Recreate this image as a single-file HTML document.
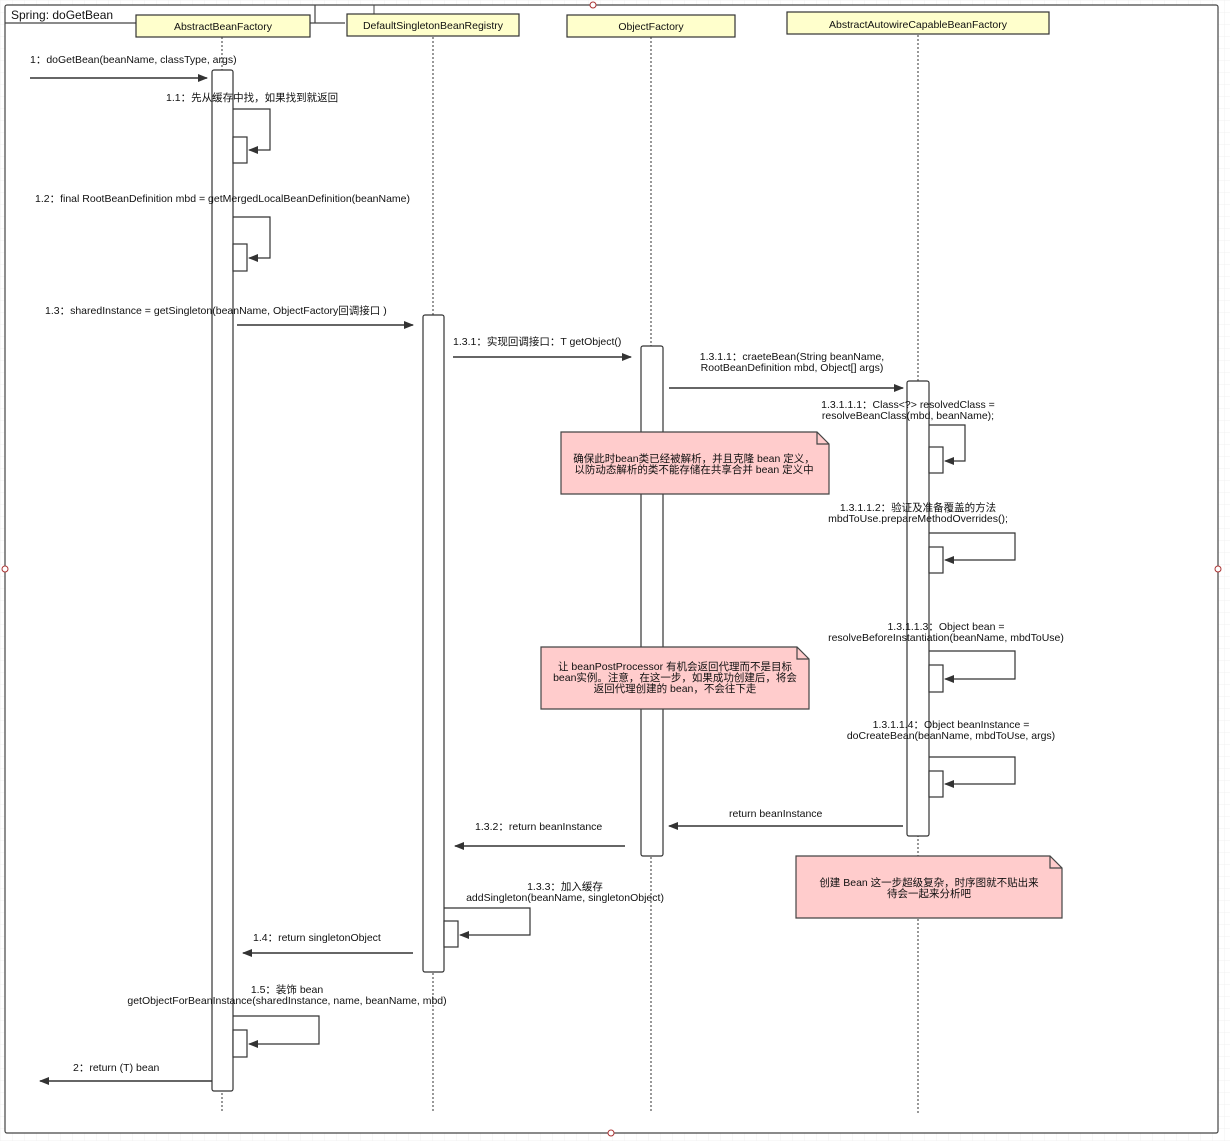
<!DOCTYPE html>
<html><head><meta charset="utf-8"><style>
html,body{margin:0;padding:0;background:#fff}
svg{display:block}
text{font-family:"Liberation Sans","Noto Sans CJK SC",sans-serif;font-size:10.5px;fill:#111}
</style></head><body>
<svg width="1230" height="1141" viewBox="0 0 1230 1141" xmlns="http://www.w3.org/2000/svg">
<defs>
<pattern id="g" width="12" height="12" patternUnits="userSpaceOnUse"><path d="M12 0H0V12" fill="none" stroke="#f0f0f0" stroke-width="1"/></pattern>
<marker id="a" markerWidth="10" markerHeight="8" refX="9" refY="4" orient="auto" markerUnits="userSpaceOnUse"><path d="M0,0 L10,4 L0,8 z" fill="#333"/></marker>
</defs>
<rect width="1230" height="1141" fill="url(#g)"/>
<rect x="5" y="5" width="1213" height="1128" fill="#fff" stroke="#444" stroke-width="1.2" rx="2"/>
<path d="M5 23 H345 M315 5 V23 M310 23 H345" stroke="#444" stroke-width="1.2" fill="none"/>
<path d="M374 5 V14" stroke="#444"/>
<text x="11" y="19" style="font-size:12px">Spring: doGetBean</text>
<g fill="#fff" stroke="#a33"><circle cx="5" cy="569" r="3"/><circle cx="1218" cy="569" r="3"/><circle cx="611" cy="1133" r="3"/><circle cx="593" cy="5" r="3"/></g>
<!-- lifelines -->
<g stroke="#555" stroke-dasharray="2,2" stroke-width="1.2">
<line x1="222" y1="37" x2="222" y2="1112"/><line x1="433" y1="37" x2="433" y2="1112"/>
<line x1="651" y1="37" x2="651" y2="1112"/><line x1="918" y1="35" x2="918" y2="1115"/>
</g>
<!-- headers -->
<g fill="#ffffcc" stroke="#333" stroke-width="1.2">
<rect x="136" y="15" width="174" height="22"/><rect x="347" y="14" width="172" height="22"/>
<rect x="567" y="15" width="168" height="22"/><rect x="787" y="12" width="262" height="22"/>
</g>
<g text-anchor="middle"><text x="223" y="30">AbstractBeanFactory</text><text x="433" y="29">DefaultSingletonBeanRegistry</text><text x="651" y="30">ObjectFactory</text><text x="918" y="28">AbstractAutowireCapableBeanFactory</text></g>
<!-- activations -->
<g fill="#fff" stroke="#333" stroke-width="1.2">
<rect x="212" y="70" width="21" height="1021" rx="2"/>
<rect x="423" y="315" width="21" height="657" rx="2"/>
<rect x="641" y="346" width="22" height="510" rx="2"/>
<rect x="907" y="381" width="22" height="455" rx="2"/>
</g>
<!-- self calls -->
<g stroke="#333" stroke-width="1.2" fill="none">
<path d="M233 109 H270 V150 H249" marker-end="url(#a)"/>
<path d="M233 217 H270 V258 H249" marker-end="url(#a)"/>
<path d="M929 425 H965 V461 H945" marker-end="url(#a)"/>
<path d="M929 533 H1015 V560 H945" marker-end="url(#a)"/>
<path d="M929 651 H1015 V679 H945" marker-end="url(#a)"/>
<path d="M929 757 H1015 V784 H945" marker-end="url(#a)"/>
<path d="M444 908 H530 V935 H460" marker-end="url(#a)"/>
<path d="M233 1016 H319 V1044 H249" marker-end="url(#a)"/>
</g>
<g fill="#fff" stroke="#333" stroke-width="1.2">
<rect x="233" y="137" width="14" height="26"/><rect x="233" y="244" width="14" height="27"/>
<rect x="929" y="447" width="14" height="26"/><rect x="929" y="547" width="14" height="26"/>
<rect x="929" y="665" width="14" height="27"/><rect x="929" y="771" width="14" height="26"/>
<rect x="444" y="921" width="14" height="26"/><rect x="233" y="1030" width="14" height="27"/>
</g>
<!-- messages -->
<g stroke="#333" stroke-width="1.4" fill="none" marker-end="url(#a)">
<line x1="30" y1="78" x2="207" y2="78"/><line x1="237" y1="325" x2="413" y2="325"/>
<line x1="453" y1="357" x2="631" y2="357"/><line x1="669" y1="388" x2="903" y2="388"/>
<line x1="903" y1="826" x2="669" y2="826"/><line x1="625" y1="846" x2="455" y2="846"/>
<line x1="413" y1="953" x2="243" y2="953"/><line x1="212" y1="1081" x2="40" y2="1081"/>
</g>
<!-- labels -->
<text x="30" y="63">1：doGetBean(beanName, classType, args)</text>
<text x="166" y="101">1.1：先从缓存中找，如果找到就返回</text>
<text x="35" y="202">1.2：final RootBeanDefinition mbd = getMergedLocalBeanDefinition(beanName)</text>
<text x="45" y="314">1.3：sharedInstance = getSingleton(beanName, ObjectFactory回调接口 )</text>
<text x="453" y="345">1.3.1：实现回调接口：T getObject()</text>
<g text-anchor="middle">
<text x="792" y="360">1.3.1.1：craeteBean(String beanName,</text><text x="792" y="371">RootBeanDefinition mbd, Object[] args)</text>
<text x="908" y="408">1.3.1.1.1：Class&lt;?&gt; resolvedClass =</text><text x="908" y="419">resolveBeanClass(mbd, beanName);</text>
<text x="918" y="511">1.3.1.1.2：验证及准备覆盖的方法</text><text x="918" y="522">mbdToUse.prepareMethodOverrides();</text>
<text x="946" y="630">1.3.1.1.3：Object bean =</text><text x="946" y="641">resolveBeforeInstantiation(beanName, mbdToUse)</text>
<text x="951" y="728">1.3.1.1.4：Object beanInstance =</text><text x="951" y="739">doCreateBean(beanName, mbdToUse, args)</text>
<text x="565" y="890">1.3.3：加入缓存</text><text x="565" y="901">addSingleton(beanName, singletonObject)</text>
<text x="287" y="993">1.5：装饰 bean</text><text x="287" y="1004">getObjectForBeanInstance(sharedInstance, name, beanName, mbd)</text>
</g>
<text x="729" y="817">return beanInstance</text>
<text x="475" y="830">1.3.2：return beanInstance</text>
<text x="253" y="941">1.4：return singletonObject</text>
<text x="73" y="1071">2：return (T) bean</text>
<!-- notes -->
<g fill="#ffcccc" stroke="#444" stroke-width="1.2">
<path d="M561 432 H817 L829 444 V494 H561 Z"/><path d="M817 432 V444 H829" fill="none"/>
<path d="M541 647 H797 L809 659 V709 H541 Z"/><path d="M797 647 V659 H809" fill="none"/>
<path d="M796 856 H1050 L1062 868 V918 H796 Z"/><path d="M1050 856 V868 H1062" fill="none"/>
</g>
<g text-anchor="middle">
<text x="694" y="462">确保此时bean类已经被解析，并且克隆 bean 定义，</text><text x="694" y="473">以防动态解析的类不能存储在共享合并 bean 定义中</text>
<text x="675" y="670">让 beanPostProcessor 有机会返回代理而不是目标</text><text x="675" y="681">bean实例。注意，在这一步，如果成功创建后，将会</text><text x="675" y="692">返回代理创建的 bean，不会往下走</text>
<text x="929" y="886">创建 Bean 这一步超级复杂，时序图就不贴出来</text><text x="929" y="897">待会一起来分析吧</text>
</g>
</svg>
</body></html>
